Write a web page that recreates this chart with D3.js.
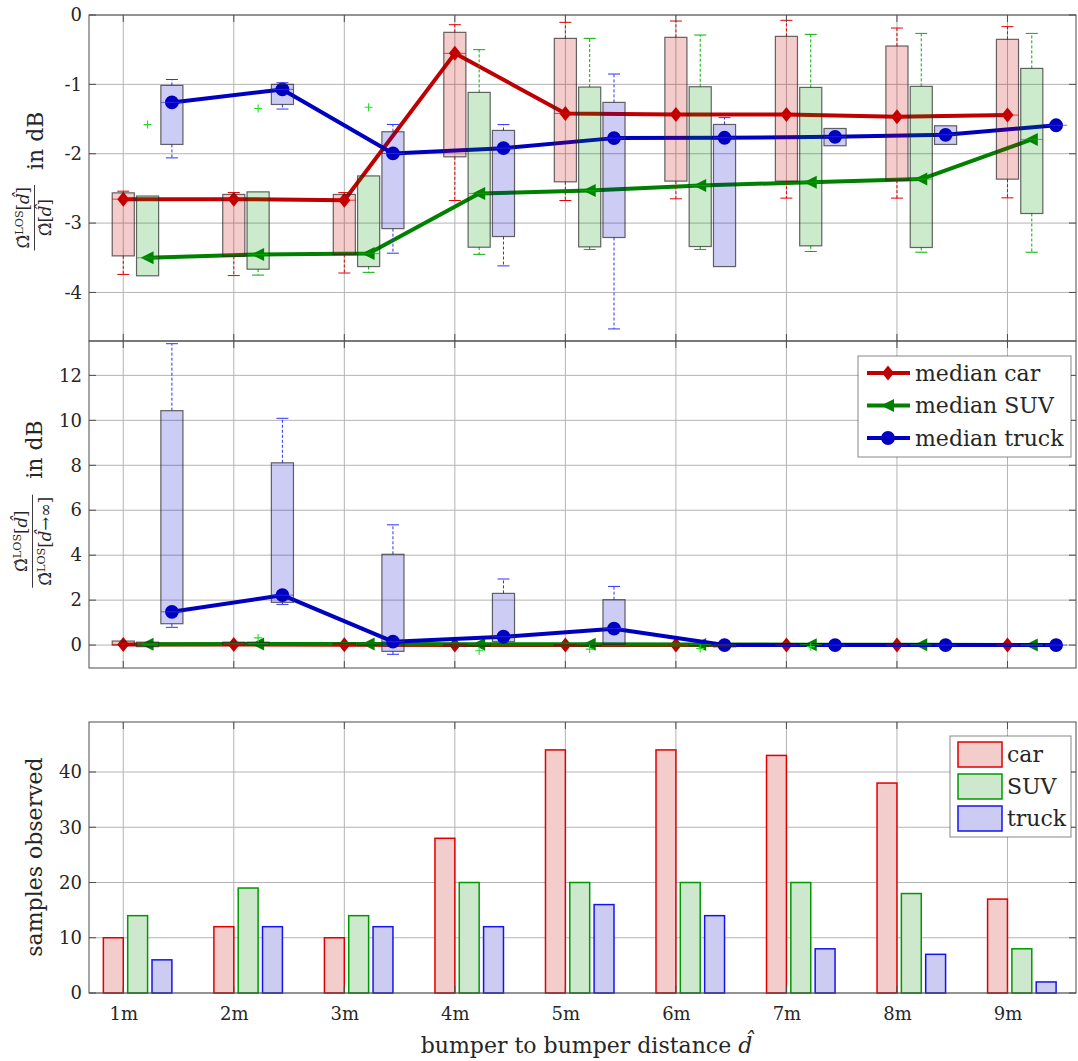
<!DOCTYPE html>
<html>
<head>
<meta charset="utf-8">
<script src="https://cdn.jsdelivr.net/npm/d3@7"></script>
<style>
  body { margin: 0; background: #fff; }
  text { font-family: "DejaVu Serif", serif; fill: #262626; }
</style>
</head>
<body>
<svg id="chart" width="1078" height="1061"></svg>
<script>
var distances = [1, 2, 3, 4, 5, 6, 7, 8, 9];
var tickLabels = ['1m', '2m', '3m', '4m', '5m', '6m', '7m', '8m', '9m'];
var vehicles = ['car', 'SUV', 'truck'];

// top panel: Omega_LOS[d] / Omega[d] in dB, box stats per vehicle
var relCarMed = [-2.655, -2.655, -2.67, -0.553, -1.419, -1.433, -1.433, -1.467, -1.443];
var relCarQ1 = [-3.473, -3.478, -3.453, -2.045, -2.405, -2.395, -2.395, -2.381, -2.367];
var relCarQ3 = [-2.564, -2.587, -2.587, -0.25, -0.337, -0.322, -0.308, -0.447, -0.351];
var relCarLo = [-3.74, -3.757, -3.72, -2.675, -2.675, -2.65, -2.64, -2.64, -2.636];
var relCarHi = [-2.54, -2.56, -2.56, -0.14, -0.106, -0.087, -0.077, -0.188, -0.168];

var relSuvMed = [-3.5, -3.453, -3.44, -2.573, -2.53, -2.458, -2.41, -2.366, -1.794];
var relSuvQ1 = [-3.76, -3.665, -3.627, -3.348, -3.343, -3.338, -3.328, -3.352, -2.862];
var relSuvQ3 = [-2.61, -2.55, -2.32, -1.116, -1.039, -1.034, -1.044, -1.029, -0.77];
var relSuvLo = [-3.76, -3.75, -3.71, -3.45, -3.38, -3.38, -3.41, -3.42, -3.42];
var relSuvHi = [-2.61, -2.55, -2.32, -0.5, -0.337, -0.289, -0.279, -0.265, -0.265];
var relSuvOutliers = [[1, -1.58], [2, -1.347], [3, -1.33]];

var relTruckMed = [-1.26, -1.073, -1.996, -1.92, -1.775, -1.77, -1.756, -1.727, -1.59];
var relTruckQ1 = [-1.866, -1.29, -3.08, -3.194, -3.208, -3.627, -1.885, -1.866, -1.59];
var relTruckQ3 = [-1.015, -1.0, -1.683, -1.664, -1.26, -1.578, -1.636, -1.597, -1.59];
var relTruckLo = [-2.06, -1.356, -3.434, -3.617, -4.526, -3.627, -1.885, -1.866, -1.59];
var relTruckHi = [-0.93, -0.977, -1.578, -1.58, -0.851, -1.48, -1.636, -1.597, -1.59];

// middle panel: Omega_LOS[d] / Omega_LOS[d -> inf] in dB
var infCarMed = [0.03, 0.03, 0.02, 0, 0, 0, 0, 0, 0];
var infCarQ1 = [0, 0, 0, -0.04, -0.02, 0, 0, 0, 0];
var infCarQ3 = [0.18, 0.13, 0.07, 0.03, 0.02, 0, 0, 0, 0];

var infSuvMed = [0.04, 0.05, 0.05, 0.04, 0.04, 0.03, 0.02, 0.01, 0];
var infSuvQ1 = [-0.07, 0, 0, -0.04, -0.03, -0.03, -0.02, 0, 0];
var infSuvQ3 = [0.13, 0.13, 0.05, 0.03, 0.03, 0.03, 0.02, 0, 0];
var infSuvOutliers = [[2, 0.32], [4, -0.25], [5, -0.18], [6, -0.15], [7, -0.07]];

var infTruckMed = [1.48, 2.22, 0.15, 0.37, 0.73, 0, 0, 0, 0];
var infTruckQ1 = [0.95, 1.9, -0.28, 0.15, 0.03, -0.08, 0, 0, 0];
var infTruckQ3 = [10.43, 8.11, 4.04, 2.3, 2.02, 0.03, 0, 0, 0];
var infTruckLo = [0.79, 1.81, -0.41, 0.15, 0.03, -0.08, 0, 0, 0];
var infTruckHi = [13.41, 10.09, 5.35, 2.94, 2.61, 0.03, 0, 0, 0];

// bottom panel: samples observed
var countCar = [10, 12, 10, 28, 44, 44, 43, 38, 17];
var countSuv = [14, 19, 14, 20, 20, 20, 20, 18, 8];
var countTruck = [6, 12, 12, 12, 16, 14, 8, 7, 2];

var topTicks = [0, -1, -2, -3, -4];
var midTicks = [0, 2, 4, 6, 8, 10, 12];
var botTicks = [0, 10, 20, 30, 40];

var lineColor = ['#c00000', '#008000', '#0000c0'];
var boxFill = ['#c80000', '#009600', '#0000c8'];
var whiskerColor = ['#e00000', '#00b000', '#3030ff'];
var barFill = ['#f3cccc', '#cde8cd', '#ccccf3'];
var barEdge = ['#e00000', '#009900', '#1414ee'];
var gridColor = '#b4b4b4';
var axisColor = '#4d4d4d';

var boxOffset = [0, 0.22, 0.44];
var boxWidth = 0.2;
var barOffset = [-0.09, 0.13, 0.35];
var barWidth = 0.18;

var svg = d3.select('#chart');
var left = 89, right = 1076;
var x = d3.scaleLinear().domain([0.69, 9.62]).range([left, right]);
var yTop = d3.scaleLinear().domain([-4.7, 0]).range([341, 15]);
var yMid = d3.scaleLinear().domain([-1.02, 13.53]).range([668, 341]);
var yBot = d3.scaleLinear().domain([0, 49.05]).range([993, 722]);

var panels = [
  { y: yTop, ticks: topTicks },
  { y: yMid, ticks: midTicks },
  { y: yBot, ticks: botTicks }
];

function minusFmt(v) {
  return v < 0 ? '-' + (-v) : String(v);
}

// grids go underneath everything
panels.forEach(function({ y, ticks }) {
  var g = svg.append('g');
  var top = y.range()[1], bottom = y.range()[0];
  g.selectAll('.gx').data(distances).enter().append('line')
    .attr('x1', x).attr('x2', x)
    .attr('y1', top).attr('y2', bottom)
    .attr('stroke', gridColor).attr('stroke-width', 1);
  g.selectAll('.gy').data(ticks).enter().append('line')
    .attr('x1', left).attr('x2', right)
    .attr('y1', y).attr('y2', y)
    .attr('stroke', gridColor).attr('stroke-width', 1);
});

var markerPaths = [
  'M0,-7.5L6,0L0,7.5L-6,0Z',
  'M-7,0L6,-6.5L6,6.5Z',
  d3.symbol(d3.symbolCircle, 150)()
];

function drawMedianLines(y, meds) {
  meds.forEach(function(med, k) {
    var pts = distances.map((d, i) => [x(d + boxOffset[k]), y(med[i])]);
    var g = svg.append('g');
    g.append('path')
      .attr('d', d3.line()(pts))
      .attr('fill', 'none')
      .attr('stroke', lineColor[k])
      .attr('stroke-width', 4)
      .attr('stroke-linejoin', 'round');
    g.selectAll('path.mk').data(pts).enter().append('path')
      .classed('mk', true)
      .attr('d', markerPaths[k])
      .attr('transform', p => 'translate(' + p[0] + ',' + p[1] + ')')
      .attr('fill', lineColor[k]);
  });
}

function drawBoxes(y, stats, outliers) {
  var half = (x(boxWidth) - x(0)) / 2;
  stats.forEach(function(s, k) {
    var rows = distances.map(function(d, i) {
      return { cx: x(d + boxOffset[k]), med: s.med[i], q1: s.q1[i], q3: s.q3[i],
        lo: s.lo ? s.lo[i] : s.q1[i], hi: s.hi ? s.hi[i] : s.q3[i] };
    });
    var g = svg.append('g');
    var up = rows.filter(r => r.hi > r.q3);
    var down = rows.filter(r => r.lo < r.q1);
    g.selectAll('.wu').data(up).enter().append('line')
      .attr('x1', r => r.cx).attr('x2', r => r.cx)
      .attr('y1', r => y(r.q3)).attr('y2', r => y(r.hi))
      .attr('stroke', whiskerColor[k]).attr('stroke-dasharray', '3,2');
    g.selectAll('.cu').data(up).enter().append('line')
      .attr('x1', r => r.cx - 6).attr('x2', r => r.cx + 6)
      .attr('y1', r => y(r.hi)).attr('y2', r => y(r.hi))
      .attr('stroke', whiskerColor[k]);
    g.selectAll('.wd').data(down).enter().append('line')
      .attr('x1', r => r.cx).attr('x2', r => r.cx)
      .attr('y1', r => y(r.q1)).attr('y2', r => y(r.lo))
      .attr('stroke', whiskerColor[k]).attr('stroke-dasharray', '3,2');
    g.selectAll('.cd').data(down).enter().append('line')
      .attr('x1', r => r.cx - 6).attr('x2', r => r.cx + 6)
      .attr('y1', r => y(r.lo)).attr('y2', r => y(r.lo))
      .attr('stroke', whiskerColor[k]);
    g.selectAll('rect').data(rows).enter().append('rect')
      .attr('x', r => r.cx - half).attr('width', 2 * half)
      .attr('y', r => y(r.q3)).attr('height', r => y(r.q1) - y(r.q3))
      .attr('fill', boxFill[k]).attr('fill-opacity', 0.2)
      .attr('stroke', '#262626').attr('stroke-opacity', 0.7).attr('stroke-width', 1.2);
    g.selectAll('.md').data(rows).enter().append('line')
      .attr('x1', r => r.cx - half).attr('x2', r => r.cx + half)
      .attr('y1', r => y(r.med)).attr('y2', r => y(r.med))
      .attr('stroke', whiskerColor[k]).attr('stroke-opacity', 0.7);
  });
  // outliers are SUV crosses
  svg.append('g').selectAll('path').data(outliers).enter().append('path')
    .attr('d', 'M-4,0H4M0,-4V4')
    .attr('transform', o => 'translate(' + x(o[0] + boxOffset[1]) + ',' + y(o[1]) + ')')
    .attr('stroke', '#22dd22').attr('stroke-width', 1.1);
}

// top panel
drawMedianLines(yTop, [relCarMed, relSuvMed, relTruckMed]);
drawBoxes(yTop, [
  { med: relCarMed, q1: relCarQ1, q3: relCarQ3, lo: relCarLo, hi: relCarHi },
  { med: relSuvMed, q1: relSuvQ1, q3: relSuvQ3, lo: relSuvLo, hi: relSuvHi },
  { med: relTruckMed, q1: relTruckQ1, q3: relTruckQ3, lo: relTruckLo, hi: relTruckHi }
], relSuvOutliers);

// middle panel
drawMedianLines(yMid, [infCarMed, infSuvMed, infTruckMed]);
drawBoxes(yMid, [
  { med: infCarMed, q1: infCarQ1, q3: infCarQ3 },
  { med: infSuvMed, q1: infSuvQ1, q3: infSuvQ3 },
  { med: infTruckMed, q1: infTruckQ1, q3: infTruckQ3, lo: infTruckLo, hi: infTruckHi }
], infSuvOutliers);

// bottom panel bars
[countCar, countSuv, countTruck].forEach(function(counts, k) {
  svg.append('g').selectAll('rect').data(counts).enter().append('rect')
    .attr('x', (v, i) => x(distances[i] + barOffset[k] - barWidth / 2))
    .attr('width', x(barWidth) - x(0))
    .attr('y', v => yBot(v))
    .attr('height', v => yBot(0) - yBot(v))
    .attr('fill', barFill[k])
    .attr('stroke', barEdge[k])
    .attr('stroke-width', 1.5);
});

// frames, inward ticks and tick labels
panels.forEach(function({ y, ticks }, p) {
  var g = svg.append('g');
  var top = y.range()[1], bottom = y.range()[0];
  var tl = 7;
  g.selectAll('.tl').data(ticks).enter().append('path')
    .attr('d', t => 'M' + left + ',' + y(t) + 'h' + tl + 'M' + right + ',' + y(t) + 'h' + (-tl))
    .attr('stroke', axisColor);
  g.selectAll('.tx').data(distances).enter().append('path')
    .attr('d', d => 'M' + x(d) + ',' + top + 'v' + tl + 'M' + x(d) + ',' + bottom + 'v' + (-tl))
    .attr('stroke', axisColor);
  g.append('rect')
    .attr('x', left).attr('y', top)
    .attr('width', right - left).attr('height', bottom - top)
    .attr('fill', 'none').attr('stroke', axisColor).attr('stroke-width', 1);

  var ax = g.append('g')
    .attr('transform', 'translate(' + left + ',0)')
    .call(d3.axisLeft(y).tickValues(ticks).tickSize(0).tickPadding(7).tickFormat(minusFmt));
  ax.select('.domain').remove();
  ax.attr('font-family', null).attr('font-size', 18);

  if (p === 2) {
    var bx = g.append('g')
      .attr('transform', 'translate(0,' + bottom + ')')
      .call(d3.axisBottom(x).tickValues(distances).tickSize(0).tickPadding(14)
        .tickFormat((d, i) => tickLabels[i]));
    bx.select('.domain').remove();
    bx.attr('font-family', null).attr('font-size', 18);
  }
});

// legend of the median lines
var medianNames = vehicles.map(v => 'median ' + v);
var legTop = svg.append('g');
legTop.append('rect')
  .attr('x', 858).attr('y', 356).attr('width', 213).attr('height', 101)
  .attr('fill', '#fff').attr('stroke', '#262626').attr('stroke-opacity', 0.55);
medianNames.forEach(function(name, k) {
  var cy = 373 + k * 32.5;
  legTop.append('line')
    .attr('x1', 867).attr('x2', 910).attr('y1', cy).attr('y2', cy)
    .attr('stroke', lineColor[k]).attr('stroke-width', 4);
  legTop.append('path')
    .attr('d', markerPaths[k])
    .attr('transform', 'translate(888,' + cy + ')')
    .attr('fill', lineColor[k]);
  legTop.append('text')
    .attr('x', 915).attr('y', cy).attr('dy', '0.36em')
    .attr('font-size', 22).attr('fill', '#000')
    .text(name);
});

// legend of the bars
var legBot = svg.append('g');
legBot.append('rect')
  .attr('x', 950).attr('y', 736).attr('width', 121).attr('height', 101)
  .attr('fill', '#fff').attr('stroke', '#262626').attr('stroke-opacity', 0.55);
vehicles.forEach(function(name, k) {
  var ty = 742 + k * 32;
  legBot.append('rect')
    .attr('x', 958).attr('y', ty).attr('width', 44).attr('height', 25)
    .attr('fill', barFill[k]).attr('stroke', barEdge[k]).attr('stroke-width', 1.5);
  legBot.append('text')
    .attr('x', 1007).attr('y', ty + 12.5).attr('dy', '0.36em')
    .attr('font-size', 22).attr('fill', '#000')
    .text(name);
});

// y labels with fractions
function mathText(parent, parts, v, size) {
  var t = parent.append('text').attr('y', v).attr('font-size', size);
  var raised = false;
  parts.forEach(function(part) {
    var ts = t.append('tspan').text(part.t);
    if (part.sup) {
      ts.attr('font-size', size * 0.68).attr('dy', -size * 0.38);
      raised = true;
    } else if (raised) {
      ts.attr('dy', size * 0.38);
      raised = false;
    }
    if (part.it) ts.attr('font-style', 'italic');
  });
  return t;
}

function fracLabel(bx, cy, num, den, layout) {
  var g = svg.append('g').attr('transform', 'translate(' + bx + ',' + cy + ') rotate(-90)');
  var n = mathText(g, num, layout.num, 16.5);
  var dn = mathText(g, den, layout.den, 16.5);
  var unit = g.append('text').attr('font-size', 22).text('in dB');
  var nw = n.node().getComputedTextLength();
  var dw = dn.node().getComputedTextLength();
  var uw = unit.node().getComputedTextLength();
  var fw = Math.max(nw, dw) + 4;
  var gap = layout.gap;
  var u0 = -(fw + gap + uw) / 2;
  n.attr('x', u0 + (fw - nw) / 2);
  dn.attr('x', u0 + (fw - dw) / 2);
  g.append('line')
    .attr('x1', u0).attr('x2', u0 + fw)
    .attr('y1', layout.bar).attr('y2', layout.bar)
    .attr('stroke', '#262626').attr('stroke-width', 0.9);
  unit.attr('x', u0 + fw + gap);
}

var omegaHat = 'Ω\u0302';
var dHat = 'd\u0302';
fracLabel(43, 181,
  [{ t: omegaHat }, { t: 'LOS', sup: true }, { t: '[' }, { t: dHat, it: true }, { t: ']' }],
  [{ t: omegaHat + '[' }, { t: dHat, it: true }, { t: ']' }],
  { num: -14, bar: -8.5, den: 8, gap: 15 });
fracLabel(42, 504,
  [{ t: omegaHat }, { t: 'LOS', sup: true }, { t: '[' }, { t: dHat, it: true }, { t: ']' }],
  [{ t: omegaHat }, { t: 'LOS', sup: true }, { t: '[' }, { t: dHat, it: true }, { t: '→∞]' }],
  { num: -15, bar: -9.5, den: 9, gap: 16 });

svg.append('text')
  .attr('transform', 'translate(42,857) rotate(-90)')
  .attr('text-anchor', 'middle')
  .attr('font-size', 22)
  .text('samples observed');

var xl = svg.append('text')
  .attr('x', (left + right) / 2 + 4).attr('y', 1053)
  .attr('text-anchor', 'middle')
  .attr('font-size', 22);
xl.append('tspan').text('bumper to bumper distance ');
xl.append('tspan').attr('font-style', 'italic').text(dHat);
</script>
</body>
</html>
